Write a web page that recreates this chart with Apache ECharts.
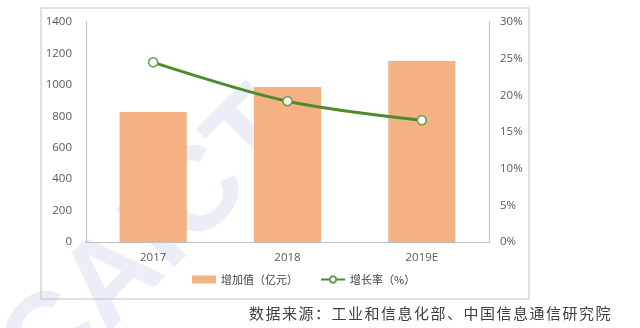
<!DOCTYPE html>
<html><head><meta charset="utf-8">
<script src="https://cdn.jsdelivr.net/npm/echarts@6/dist/echarts.min.js"></script>
<style>html,body{margin:0;padding:0;background:#fff}#c{width:640px;height:328px}</style>
</head><body><div id="c"></div>
<script>
const categories = ['2017', '2018', '2019E'];
const addedValue = [827, 986, 1152];
const growthRate = [24.5, 19.2, 16.6];
const leftTicks = [0, 1400, 200];
const rightTicks = [0, 30, 5];
const seriesNames = ['增加值（亿元）', '增长率（%）'];
const sourceText = '数据来源：工业和信息化部、中国信息通信研究院';

const chart = echarts.init(document.getElementById('c'));
const labelFont = {color: '#595959', fontSize: 11.5, fontFamily: 'Open Sans, Noto Sans, sans-serif'};
const srcChars = Array.from(sourceText).map((ch, i) => ({
  type: 'text', x: 249 + i * 16.5, y: 306, z: 5,
  style: {text: ch, fontSize: 15, fill: '#404040', fontFamily: 'Noto Sans CJK SC'}
}));
chart.setOption({
  animation: false,
  graphic: [
    {type: 'text', x: -20, y: 330, rotation: Math.PI/4, z: 0, silent: true,
     style: {text: 'CAICT', fontSize: 120, fontWeight: 'bold', fill: 'rgba(185,195,225,0.28)', fontFamily: 'Liberation Sans'}},
    {type: 'rect', shape: {x: 41, y: 8, width: 488, height: 291}, z: -1,
     style: {fill: 'none', stroke: '#d6d6d6', lineWidth: 1.5}},
    {type: 'group', children: srcChars}
  ],
  grid: {left: 86, right: 151, top: 22, bottom: 86},
  legend: {
    bottom: 38, left: 187, itemGap: 22, itemWidth: 24, itemHeight: 8,
    textStyle: {color: '#404040', fontSize: 11, fontFamily: 'Noto Sans CJK SC'},
    data: [{name: seriesNames[0], icon: 'rect'}, {name: seriesNames[1]}]
  },
  xAxis: {
    type: 'category', data: categories,
    axisLine: {lineStyle: {color: '#bfbfbf'}}, axisTick: {show: false},
    axisLabel: Object.assign({margin: 10}, labelFont)
  },
  yAxis: [
    {type: 'value', min: leftTicks[0], max: leftTicks[1], interval: leftTicks[2],
     axisLine: {show: true, lineStyle: {color: '#bfbfbf'}}, axisTick: {show: false}, splitLine: {show: false},
     axisLabel: Object.assign({margin: 14, formatter: v => String(v)}, labelFont)},
    {type: 'value', min: rightTicks[0], max: rightTicks[1], interval: rightTicks[2],
     axisLine: {show: true, lineStyle: {color: '#bfbfbf'}}, axisTick: {show: false}, splitLine: {show: false},
     axisLabel: Object.assign({margin: 11, formatter: '{value}%'}, labelFont)}
  ],
  series: [
    {name: seriesNames[0], type: 'bar', data: addedValue, barWidth: '50%', yAxisIndex: 0,
     itemStyle: {color: '#f4b183'}},
    {name: seriesNames[1], type: 'line', data: growthRate, yAxisIndex: 1, smooth: 0.3,
     symbol: 'circle', symbolSize: 9,
     lineStyle: {color: '#4e8a2e', width: 3},
     itemStyle: {color: '#ffffff', borderColor: '#6a9a4a', borderWidth: 1.5}}
  ]
});
</script></body></html>
